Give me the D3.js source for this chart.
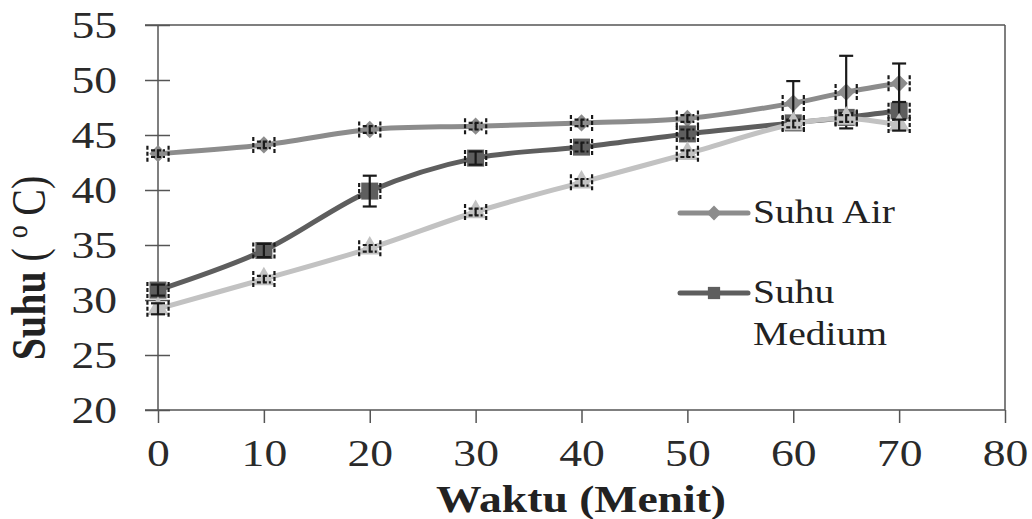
<!DOCTYPE html>
<html>
<head>
<meta charset="utf-8">
<script src="https://cdn.jsdelivr.net/npm/d3@7"></script>
<style>
  body { margin: 0; background: #fff; }
  svg { display: block; font-family: "Liberation Serif", "DejaVu Serif", serif; }
</style>
</head>
<body>
<div id="chart"></div>
<script>
// chart values
var waktu = [0, 10, 20, 30, 40, 50, 60, 65, 70];
var suhuAir = [43.3, 44.1, 45.5, 45.8, 46.1, 46.5, 47.9, 48.9, 49.7];
var suhuAirErr = [0.3, 0.3, 0.3, 0.3, 0.3, 0.3, 2.0, 3.3, 1.8];
var suhuMedium = [30.9, 34.5, 39.9, 42.9, 43.9, 45.1, 46.1, 46.6, 47.2];
var suhuMediumErr = [0.5, 0.6, 1.4, 0.6, 0.4, 0.4, 0.3, 0.4, 0.8];
var suhuLain = [29.2, 31.9, 34.7, 38.0, 40.7, 43.3, 46.0, 46.5, 45.9];
var suhuLainErr = [0.5, 0.3, 0.3, 0.3, 0.3, 0.3, 0.3, 0.3, 0.5];
var waktuErr = 1.0;
var xTicks = [0, 10, 20, 30, 40, 50, 60, 70, 80];
var yTicks = [20, 25, 30, 35, 40, 45, 50, 55];
var legendNames = [['Suhu Air'], ['Suhu', 'Medium']];

var width = 1032, height = 519;
var pLeft = 158, pRight = 1005, pTop = 25, pBottom = 410;
var stretch = 1.2; // the source picture is a bit wider than tall

var svg = d3.select('#chart').append('svg')
    .attr('width', width).attr('height', height);

var x = d3.scaleLinear().domain([0, 80]).range([pLeft, pRight]);
var y = d3.scaleLinear().domain([20, 55]).range([pBottom, pTop]);

var axisColor = '#555';

// square turned 45 degrees, as the diamond marker
var diamond = {
  draw: function(ctx, size) {
    var r = Math.sqrt(size) / Math.SQRT2;
    ctx.moveTo(0, -r); ctx.lineTo(r, 0); ctx.lineTo(0, r); ctx.lineTo(-r, 0); ctx.closePath();
  }
};

/**
 * Draw the frame and both axes.
 */
var createAxes = function() {
  // top and right frame lines
  svg.append('line').attr('x1', pLeft - 13).attr('x2', pRight)
      .attr('y1', pTop).attr('y2', pTop)
      .attr('stroke', axisColor).attr('stroke-width', 1.5);
  svg.append('line').attr('x1', pRight).attr('x2', pRight)
      .attr('y1', pTop).attr('y2', pBottom)
      .attr('stroke', axisColor).attr('stroke-width', 1.5);

  var yAxis = svg.append('g').attr('transform', 'translate(' + pLeft + ',0)')
      .call(d3.axisLeft(y).tickValues(yTicks).tickSize(13));
  yAxis.selectAll('line').attr('x1', 12);
  yAxis.selectAll('text').attr('font-size', 38).attr('fill', '#2a2a2a')
      .attr('font-family', '"Liberation Serif", serif')
      .attr('x', -41 / stretch).attr('transform', 'scale(' + stretch + ',1)');

  var xAxis = svg.append('g').attr('transform', 'translate(0,' + pBottom + ')')
      .call(d3.axisBottom(x).tickValues(xTicks).tickSize(13).tickPadding(16));
  xAxis.selectAll('text').attr('font-size', 38).attr('fill', '#2a2a2a')
      .attr('font-family', '"Liberation Serif", serif')
      .attr('transform', 'scale(' + stretch + ',1)');

  [yAxis, xAxis].forEach(function(a) {
    a.select('.domain').attr('stroke', axisColor).attr('stroke-width', 1.5);
    a.selectAll('.tick line').attr('stroke', axisColor).attr('stroke-width', 1.5);
  });
  yAxis.select('.domain').attr('d', 'M0,' + pTop + 'V' + pBottom);
  xAxis.select('.domain').attr('d', 'M' + (pLeft - 13) + ',0H' + pRight);

  // axis titles
  svg.append('text').attr('transform', 'translate(581,512) scale(' + stretch + ',1)')
      .attr('text-anchor', 'middle').attr('font-size', 38).attr('font-weight', 'bold')
      .attr('fill', '#222').text('Waktu (Menit)');
  var yt = svg.append('text')
      .attr('transform', 'translate(45,268) rotate(-90) scale(1,' + stretch + ')')
      .attr('text-anchor', 'middle').attr('font-size', 40).attr('fill', '#222');
  yt.append('tspan').attr('font-weight', 'bold').text('Suhu ');
  yt.append('tspan').text('( º C)');
};

/**
 * Draw one series: smoothed line, markers and error bars.
 */
var createSeries = function(values, errs, color, shape, size) {
  var pts = waktu.map(function(t, i) { return [t, values[i], errs[i]]; });
  var line = d3.line().x(function(d) { return x(d[0]); })
      .y(function(d) { return y(d[1]); })
      .curve(d3.curveCatmullRom.alpha(0.5));
  svg.append('path').datum(pts).attr('d', line)
      .attr('fill', 'none').attr('stroke', color).attr('stroke-width', 5)
      .attr('stroke-linejoin', 'round');

  var sym = d3.symbol().type(shape).size(size);
  svg.append('g').selectAll('path').data(pts).enter().append('path')
      .attr('transform', function(d) { return 'translate(' + x(d[0]) + ',' + y(d[1]) + ')'; })
      .attr('d', sym).attr('fill', color);

  var eb = svg.append('g').attr('stroke', '#1a1a1a').attr('stroke-width', 2.2);
  pts.forEach(function(d) {
    var cx = x(d[0]), y0 = y(d[1] - d[2]), y1 = y(d[1] + d[2]);
    var x0 = x(d[0] - waktuErr), x1 = x(d[0] + waktuErr);
    var dash = d[2] < 0.5 ? '4,2' : null;
    // vertical error bar
    eb.append('line').attr('x1', cx).attr('x2', cx).attr('y1', y0).attr('y2', y1);
    eb.append('line').attr('x1', cx - 7).attr('x2', cx + 7).attr('y1', y0).attr('y2', y0)
        .attr('stroke-dasharray', dash);
    eb.append('line').attr('x1', cx - 7).attr('x2', cx + 7).attr('y1', y1).attr('y2', y1)
        .attr('stroke-dasharray', dash);
    // horizontal error caps
    [x0, x1].forEach(function(xx) {
      eb.append('line').attr('x1', xx).attr('x2', xx)
          .attr('y1', y(d[1]) - 8).attr('y2', y(d[1]) + 8)
          .attr('stroke-dasharray', '4,2');
    });
  });
};

/**
 * Legend entries for the two named series.
 */
var createLegend = function() {
  var items = [
    { color: '#8c8c8c', shape: diamond, size: 110, y: 213, names: legendNames[0] },
    { color: '#5e5e5e', shape: d3.symbolSquare, size: 150, y: 293, names: legendNames[1] }
  ];
  items.forEach(function(it) {
    svg.append('line').attr('x1', 680).attr('x2', 748).attr('y1', it.y).attr('y2', it.y)
        .attr('stroke', it.color).attr('stroke-width', 5).attr('stroke-linecap', 'round');
    svg.append('path').attr('transform', 'translate(714,' + it.y + ')')
        .attr('d', d3.symbol().type(it.shape).size(it.size))
        .attr('fill', it.color);
    var t = svg.append('text')
        .attr('transform', 'translate(753,' + (it.y + 10) + ') scale(' + stretch + ',1)')
        .attr('font-size', 33).attr('fill', '#222');
    it.names.forEach(function(n, i) {
      t.append('tspan').attr('x', 0).attr('dy', i === 0 ? 0 : 42).text(n);
    });
  });
};

createAxes();
createSeries(suhuAir, suhuAirErr, '#8c8c8c', diamond, 150);
createSeries(suhuMedium, suhuMediumErr, '#5e5e5e', d3.symbolSquare, 290);
createSeries(suhuLain, suhuLainErr, '#c2c2c2', d3.symbolTriangle, 200);
createLegend();
</script>
</body>
</html>
